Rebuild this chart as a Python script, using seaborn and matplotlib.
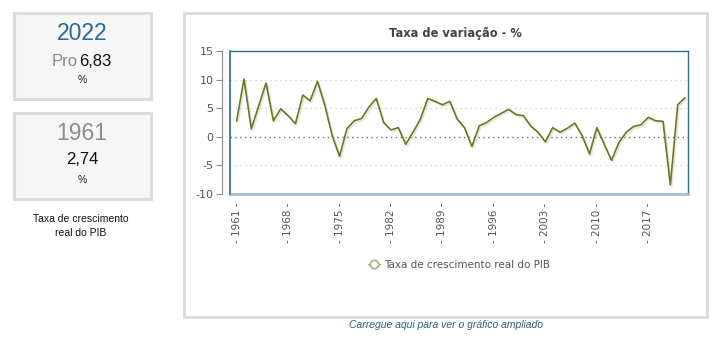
import matplotlib
matplotlib.use("Agg")
import matplotlib.pyplot as plt
import matplotlib.patheffects as pe
from matplotlib.patches import Rectangle
from matplotlib.lines import Line2D
import pandas as pd
import seaborn as sns

# data (Taxa de crescimento real do PIB, %)
years = list(range(1961, 2023))
growth = [2.74, 10.1, 1.4, 5.4, 9.4, 2.8, 4.9, 3.7, 2.3, 7.3,
          6.3, 9.7, 5.5, 0.2, -3.4, 1.4, 2.8, 3.2, 5.2, 6.7,
          2.5, 1.2, 1.6, -1.3, 0.8, 3.1, 6.7, 6.2, 5.6, 6.2,
          3.1, 1.6, -1.7, 1.9, 2.5, 3.4, 4.1, 4.8, 3.9, 3.7,
          1.9, 0.8, -0.9, 1.6, 0.8, 1.5, 2.4, 0.2, -3.0, 1.6,
          -1.3, -4.1, -1.0, 0.8, 1.8, 2.1, 3.4, 2.8, 2.7, -8.4,
          5.6, 6.83]
tick_years = list(range(1961, 2018, 7))
y_ticks = [-10, -5, 0, 5, 10, 15]

df = pd.DataFrame({"ano": years, "taxa": growth})

W, H = 713, 353
sns.set_theme(style="white")
plt.rcParams["font.family"] = ["DejaVu Sans"]

fig = plt.figure(figsize=(W / 100, H / 100), dpi=100)
fig.patch.set_facecolor("white")


def px(x, y):
    return x / W, 1 - y / H


def box(x0, y0, x1, y1, fc, ec, lw):
    fig.patches.append(Rectangle(px(x0, y1), (x1 - x0) / W, (y1 - y0) / H,
                                 transform=fig.transFigure, facecolor=fc,
                                 edgecolor=ec, linewidth=lw, zorder=-1))


# left info boxes
box(14, 13, 151, 99, "#f6f6f6", "#dcdcdc", 2.2)
box(14, 113, 151, 199, "#f6f6f6", "#dcdcdc", 2.2)
arial = "Liberation Sans"
fig.text(*px(82, 34), "2022", ha="center", va="center", fontsize=16.5,
         color="#2b6a93", family=arial)
fig.text(*px(78, 61), "Pro", ha="right", va="center", fontsize=12,
         color="#8a8a8a", family=arial)
fig.text(*px(79, 61), "6,83", ha="left", va="center", fontsize=12,
         color="#111111", family=arial)
fig.text(*px(82, 80), "%", ha="center", va="center", fontsize=7.5,
         color="#222222", family=arial)
fig.text(*px(82, 134), "1961", ha="center", va="center", fontsize=16.5,
         color="#8c8c8c", family=arial)
fig.text(*px(82, 159), "2,74", ha="center", va="center", fontsize=12,
         color="#111111", family=arial)
fig.text(*px(82, 180), "%", ha="center", va="center", fontsize=7.5,
         color="#222222", family=arial)
fig.text(*px(81, 226), "Taxa de crescimento\nreal do PIB", ha="center",
         va="center", fontsize=7.5, color="#111111", family=arial,
         linespacing=1.45)

# chart panel
box(184, 13, 707, 317, "white", "#dadada", 2.0)
fig.text(*px(455, 34), "Taxa de variação - %", ha="center", va="center",
         fontsize=8.3, color="#444444", fontweight="bold")

ax = fig.add_axes([230 / W, (H - 194) / H, (688 - 230) / W, (194 - 51) / H])
ax.set_zorder(2)
ax.set_facecolor("white")

# spine setup first: set_position resets the ticks
for s in ["top", "right"]:
    ax.spines[s].set_color("#2f6b84")
    ax.spines[s].set_linewidth(1.0)
ax.spines["bottom"].set_color("#9fc0d2")
ax.spines["bottom"].set_linewidth(2.0)
ax.spines["left"].set_position(("outward", 6))
ax.spines["left"].set_color("#8a8a8a")
ax.spines["left"].set_linewidth(0.8)

for v in [-5, 5, 10]:
    ax.axhline(v, color="#cccccc", lw=0.9, ls=(0, (1, 3)), zorder=1)
ax.axhline(0, color="#6f6f6f", lw=1.0, ls=(0, (1, 2.5)), zorder=1)

sns.lineplot(data=df, x="ano", y="taxa", ax=ax, color="#66782a", lw=1.2,
             zorder=3,
             path_effects=[pe.SimpleLineShadow(offset=(1, -1.2),
                                               shadow_color="#c4c79e",
                                               alpha=0.45),
                           pe.Normal()])

ax.set_xlim(1960.1, 2022.4)
ax.set_ylim(-10, 15)
ax.set_xlabel("")
ax.set_ylabel("")

ax.set_xticks(tick_years)
ax.set_xticklabels([f"- {y} -" for y in tick_years], rotation=90,
                   fontsize=7.5, color="#555555")
ax.tick_params(axis="x", length=0, pad=6)

ax.set_yticks(y_ticks)
ax.set_yticklabels([str(v) for v in y_ticks], fontsize=8, color="#555555")
ax.tick_params(axis="y", length=4, width=0.8, color="#8a8a8a", pad=2,
               left=True)

# teal frame on the left edge of the plot area
ax.plot([0, 0], [0, 1], transform=ax.transAxes, color="#2f6b84", lw=1.2,
        clip_on=False, zorder=4)

handle = Line2D([], [], color="#a9b088", lw=1.0, marker="o", markersize=6,
                markerfacecolor="white", markeredgecolor="#a9b088",
                markeredgewidth=1.2)
fig.legend([handle], ["Taxa de crescimento real do PIB"],
           loc="center", bbox_to_anchor=px(459, 265), frameon=False,
           fontsize=7.5, labelcolor="#555555", handlelength=1.2,
           handletextpad=0.4)

fig.text(*px(446, 325), "Carregue aqui para ver o gráfico ampliado",
         ha="center", va="center", fontsize=7.5, style="italic",
         color="#2a5f80", family=arial)

fig.savefig("out.png", dpi=100)
